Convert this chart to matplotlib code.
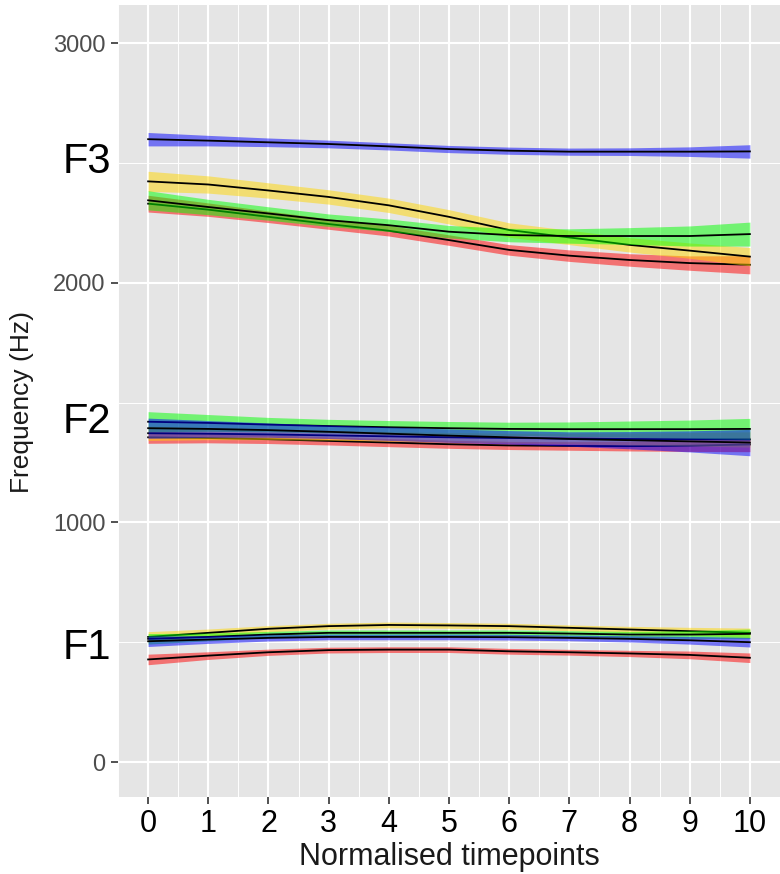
import numpy as np
import matplotlib
matplotlib.use("Agg")
import matplotlib.pyplot as plt
from matplotlib.ticker import MultipleLocator

plt.rcParams['font.family'] = ['Liberation Sans', 'DejaVu Sans']

timepoints = [0, 1, 2, 3, 4, 5, 6, 7, 8, 9, 10]

# F3 smooths (Hz) and ribbon half widths
f3_red = [2330, 2305, 2275, 2245, 2217, 2178, 2137, 2113, 2095, 2082, 2075]
f3_red_se = [35, 28, 24, 22, 22, 22, 22, 24, 26, 30, 38]
f3_yellow = [2423, 2410, 2385, 2358, 2323, 2275, 2220, 2189, 2158, 2134, 2109]
f3_yellow_se = [42, 36, 32, 30, 30, 30, 30, 30, 30, 32, 38]
f3_green = [2344, 2316, 2289, 2261, 2240, 2213, 2199, 2195, 2195, 2195, 2203]
f3_green_se = [40, 32, 28, 26, 26, 26, 28, 30, 35, 42, 50]
f3_blue = [2599, 2593, 2586, 2579, 2569, 2558, 2551, 2547, 2547, 2547, 2548]
f3_blue_se = [28, 22, 18, 16, 15, 15, 15, 15, 16, 20, 28]

# F2
f2_red = [1355, 1352, 1347, 1340, 1333, 1326, 1321, 1319, 1318, 1320, 1325]
f2_red_se = [25, 20, 18, 17, 17, 17, 17, 18, 20, 24, 30]
f2_yellow = [1372, 1370, 1367, 1363, 1359, 1355, 1352, 1350, 1348, 1347, 1346]
f2_yellow_se = [30, 25, 22, 20, 20, 20, 20, 22, 25, 28, 32]
f2_green = [1420, 1415, 1408, 1402, 1397, 1393, 1390, 1389, 1389, 1389, 1390]
f2_green_se = [42, 35, 30, 28, 28, 28, 28, 30, 34, 38, 44]
f2_blue = [1393, 1390, 1385, 1378, 1370, 1362, 1355, 1348, 1343, 1338, 1333]
f2_blue_se = [42, 35, 30, 28, 28, 28, 28, 30, 36, 44, 55]

# F1
f1_red = [428, 444, 458, 467, 469, 469, 462, 458, 453, 447, 435]
f1_yellow = [522, 539, 556, 567, 572, 570, 567, 560, 553, 546, 539]
f1_green = [514, 522, 532, 539, 539, 539, 539, 536, 532, 532, 535]
f1_blue = [504, 511, 518, 522, 522, 522, 521, 518, 514, 508, 500]
f1_se = [22, 16, 13, 12, 12, 12, 12, 12, 13, 16, 20]

group_colours = ['#FF0000', '#FFD700', '#00FF00', '#0000FF']

layers = [
    [(f1_red, f1_se), (f1_yellow, f1_se), (f1_green, f1_se), (f1_blue, f1_se)],
    [(f2_red, f2_red_se), (f2_yellow, f2_yellow_se), (f2_green, f2_green_se), (f2_blue, f2_blue_se)],
    [(f3_red, f3_red_se), (f3_yellow, f3_yellow_se), (f3_green, f3_green_se), (f3_blue, f3_blue_se)],
]

fig = plt.figure(figsize=(7.8, 8.74), dpi=100)
ax = fig.add_axes([118 / 780, 1 - 797 / 874, 662 / 780, 792 / 874])
ax.set_facecolor('#E5E5E5')

x = np.array(timepoints)
for layer in layers:
    for (vals, se), col in zip(layer, group_colours):
        y = np.array(vals)
        s = np.array(se)
        ax.fill_between(x, y - s, y + s, color=col, alpha=0.5, linewidth=0, zorder=2)
        ax.plot(x, y, color='black', linewidth=1.3, zorder=2)

ax.set_xlim(-0.5, 10.5)
ax.set_ylim(-146, 3159)
ax.set_xticks(timepoints)
ax.set_yticks([0, 1000, 2000, 3000])
ax.xaxis.set_minor_locator(MultipleLocator(0.5))
ax.yaxis.set_minor_locator(MultipleLocator(500))
ax.grid(which='major', color='white', linewidth=1.5, zorder=1)
ax.grid(which='minor', color='white', linewidth=0.7, zorder=1)
ax.set_axisbelow(True)
for sp in ax.spines.values():
    sp.set_visible(False)
ax.tick_params(which='minor', length=0)
ax.tick_params(axis='x', which='major', length=5, width=1.2, color='#333333',
               labelsize=22, labelcolor='black', pad=4)
ax.tick_params(axis='y', which='major', length=5, width=1.2, color='#333333',
               labelsize=17, labelcolor='#4D4D4D', pad=4)

fig.text(449 / 780, 1 - 857 / 874, 'Normalised timepoints', ha='center', va='center',
         fontsize=22, color='#1A1A1A')
fig.text(22 / 780, 1 - 402 / 874, 'Frequency (Hz)', ha='center', va='center',
         rotation=90, fontsize=19, color='#1A1A1A')

for lab, ypix in [('F3', 162), ('F2', 422), ('F1', 648)]:
    fig.text(87 / 780, 1 - ypix / 874, lab, ha='center', va='center',
             fontsize=30, color='black')

fig.savefig('out.png', dpi=100)
